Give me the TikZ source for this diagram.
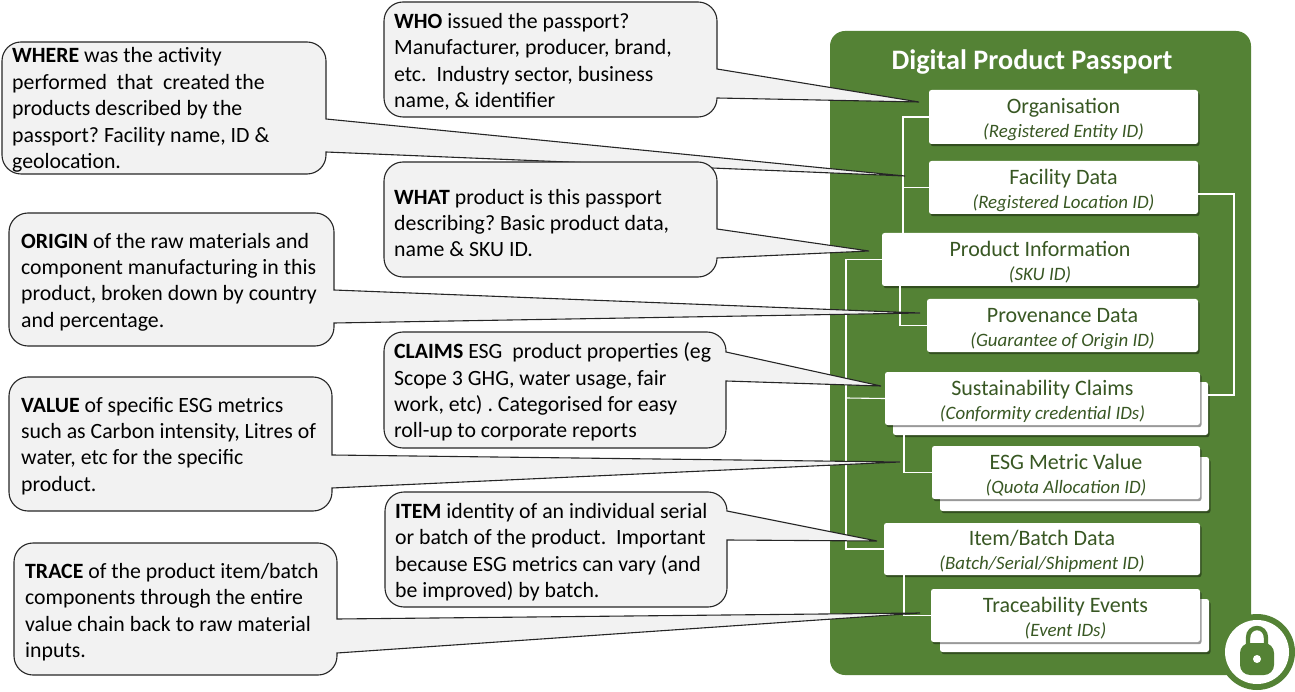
\documentclass[tikz,border=0pt]{standalone}
\usepackage{fontspec}
\setmainfont{Carlito}
\usetikzlibrary{shadows}
\definecolor{panelgreen}{HTML}{548235}
\definecolor{darkgreen}{HTML}{385723}
\definecolor{bubblefill}{HTML}{F2F2F2}
\frenchspacing
\tikzset{
  bubbleshape/.style={draw=black!85,line width=1.1pt,fill=bubblefill,line join=miter},
  bubbletext/.style={anchor=west,align=left,inner sep=0pt,text=black,font=\fontsize{21.8}{26.4}\selectfont\frenchspacing},
  card/.style={fill=white,rounded corners=2.5pt,inner sep=0pt,align=center,text=darkgreen,
    font=\fontsize{22}{24}\selectfont,
    drop shadow={shadow xshift=1.5pt,shadow yshift=-2.2pt,opacity=.4,fill=black}},
  wire/.style={draw=white,line width=1.1pt}
}
% #1 left #2 top #3 right #4 bottom #5 tail upper y #6 tail lower y #7 tip coordinate
\newcommand{\bubblepath}[7]{%
  \draw[bubbleshape] (#3,#6) -- (#3,{#4-19}) .. controls (#3,{#4-8.5}) and ({#3-8.5},#4) .. ({#3-19},#4)
    -- ({#1+19},#4) .. controls ({#1+8.5},#4) and (#1,{#4-8.5}) .. (#1,{#4-19})
    -- (#1,{#2+19}) .. controls (#1,{#2+8.5}) and ({#1+8.5},#2) .. ({#1+19},#2)
    -- ({#3-19},#2) .. controls ({#3-8.5},#2) and (#3,{#2+8.5}) .. (#3,{#2+19})
    -- (#3,#5) -- (#7) -- cycle;}
\newcommand{\cardbox}[6]{% name, x1,y1,x2,y2,text
  \node[card,minimum width=#4pt-#2pt,minimum height=#5pt-#3pt] (#1) at ({(#2+#4)/2},{(#3+#5)/2}) {#6};}
\newcommand{\sm}[1]{{\fontsize{18.9}{24}\selectfont\itshape #1}}
\newcommand{\up}{\rule{0pt}{21pt}}
\begin{document}
\begin{tikzpicture}[x=1pt,y=-1pt]
\useasboundingbox (0,0) rectangle (1295,692);
% panel
\fill[panelgreen,rounded corners=15pt] (830,31) rectangle (1251,675);
\node[text=white,font=\fontsize{28.2}{32}\selectfont\bfseries] (title) at (1032,62) {Digital Product Passport};
% back cards
\cardbox{sustb}{893}{382}{1208}{435}{}
\cardbox{esgb}{940}{457}{1209}{511}{}
\cardbox{traceb}{940}{599}{1209}{652}{}
% connectors
\coordinate (s1) at (903,233);
\coordinate (s2) at (846,398);
\coordinate (s3) at (1234,300);
\coordinate (facr) at (1198,194);
\coordinate (sustr) at (1208,395);
\coordinate (prodb) at (900,286);
\coordinate (sustbb) at (904,435);
\coordinate (itemb) at (904,575);
% cards
\cardbox{org}{929}{90}{1198}{144}{\up Organisation\\\sm{(Registered Entity ID)}}
\cardbox{fac}{929}{161}{1198}{214}{\up Facility Data\\\sm{(Registered Location ID)}}
\cardbox{prod}{882}{233}{1198}{286}{\up Product Information\\\sm{(SKU ID)}}
\cardbox{prov}{927}{299}{1198}{352}{\up Provenance Data\\\sm{(Guarantee of Origin ID)}}
\cardbox{sust}{885}{372}{1200}{425}{\up Sustainability Claims\\\sm{(Conformity credential IDs)}}
\cardbox{esg}{932}{446}{1200}{499}{\up ESG Metric Value\\\sm{(Quota Allocation ID)}}
\cardbox{item}{884}{523}{1200}{575}{\up Item/Batch Data\\\sm{(Batch/Serial/Shipment ID)}}
\cardbox{trace}{931}{589}{1200}{642}{\up Traceability Events\\\sm{(Event IDs)}}
\draw[wire] (org.west) -| (s1);
\draw[wire] (fac.west) -| (s1);
\draw[wire] (prodb) |- (prov.west);
\draw[wire] (prod.west) -| (s2);
\draw[wire] (s2) |- (item.west);
\draw[wire] (sust.west) -- (s2);
\draw[wire] (facr) -| (s3) |- (sustr);
\draw[wire] (sustbb) |- (esg.west);
\draw[wire] (itemb) |- (trace.west);
% lock
\fill[panelgreen] (1257,652) circle (38pt);
\fill[white] (1257,652) circle (32pt);
\draw[panelgreen,line width=4.4pt] (1248,646) -- (1248,638) .. controls (1248,624.7) and (1266,624.7) .. (1266,638) -- (1266,646);
\fill[panelgreen,rounded corners=10pt] (1240,643) rectangle (1274,675);
\fill[white] (1257,659) circle (4pt);
% bubbles
\coordinate (tipwhere) at (905,176);
\bubblepath{2}{42}{326}{174}{119}{152}{tipwhere}
\node[bubbletext] (where) at (12,110) {\textbf{WHERE} was the activity\\performed\ \ that\ \ created the\\products described by the\\passport? Facility name, ID \&\\geolocation.};
\coordinate (tipwho) at (919,102);
\bubblepath{384}{2}{717}{117}{69}{98}{tipwho}
\node[bubbletext] (who) at (394,62) {\textbf{WHO} issued the passport?\\Manufacturer, producer, brand,\\etc.\ \ Industry sector, business\\name, \& identifier};
\coordinate (tiporigin) at (920,313);
\bubblepath{9}{213}{334}{346}{290}{323}{tiporigin}
\node[bubbletext] (origin) at (21,282) {\textbf{ORIGIN} of the raw materials and\\component manufacturing in this\\product, broken down by country\\and percentage.};
\coordinate (tipwhat) at (869,251);
\bubblepath{384}{162}{717}{277}{229}{258}{tipwhat}
\node[bubbletext] (what) at (394,223) {\textbf{WHAT} product is this passport\\describing? Basic product data,\\name \& SKU ID.};
\coordinate (tipvalue) at (900,462);
\bubblepath{9}{377}{332}{511}{455}{488}{tipvalue}
\node[bubbletext] (value) at (21,446) {\textbf{VALUE} of specific ESG metrics\\such as Carbon intensity, Litres of\\water, etc for the specific\\product.};
\coordinate (tipclaims) at (881,386);
\bubblepath{384}{332}{726}{448}{352}{381}{tipclaims}
\node[bubbletext] (claims) at (394,392) {\textbf{CLAIMS} ESG\ \ product properties (eg\\Scope 3 GHG, water usage, fair\\work, etc) . Categorised for easy\\roll-up to corporate reports};
\coordinate (tiptrace) at (920,613);
\bubblepath{14}{543}{337}{675}{619}{653}{tiptrace}
\node[bubbletext] (tracetext) at (25,612) {\textbf{TRACE} of the product item/batch\\components through the entire\\value chain back to raw material\\inputs.};
\coordinate (tipitem) at (877,541);
\bubblepath{385}{492}{727}{607}{511}{540}{tipitem}
\node[bubbletext] (itemtext) at (395,552) {\textbf{ITEM} identity of an individual serial\\or batch of the product.\ \ Important\\because ESG metrics can vary (and\\be improved) by batch.};
\end{tikzpicture}
\end{document}
